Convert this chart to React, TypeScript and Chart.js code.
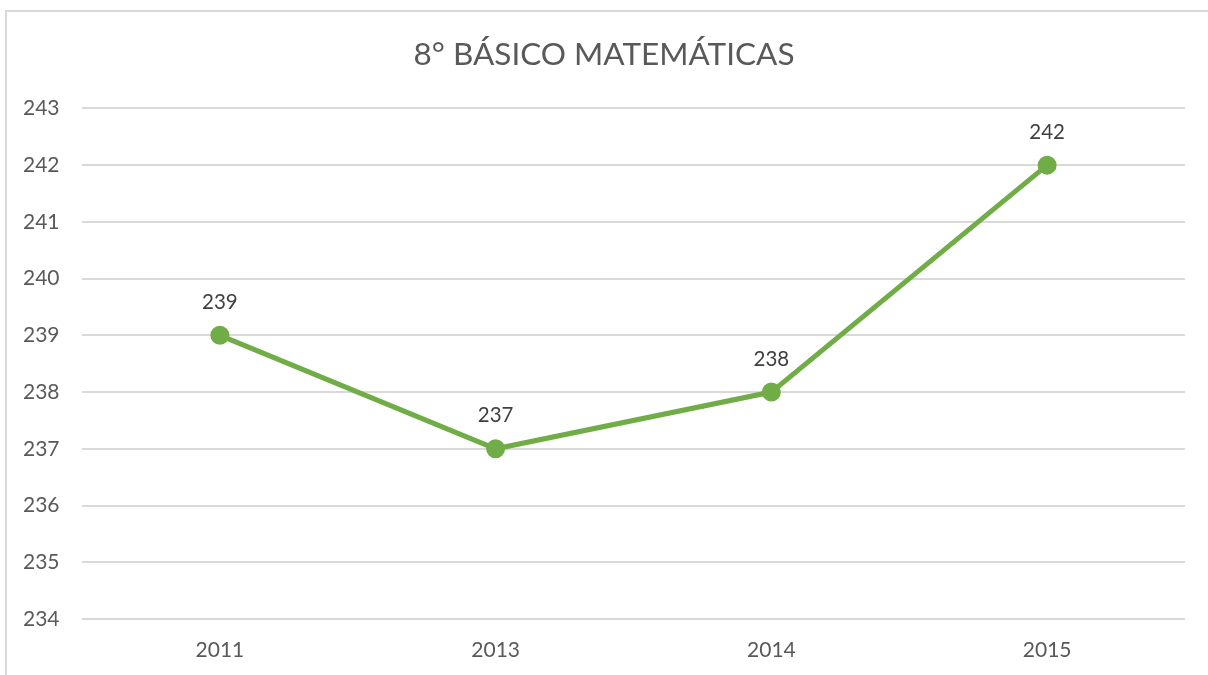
import React, { useEffect, useRef } from "react";
import { Chart, registerables } from "chart.js";

Chart.register(...registerables);

const categories = ["2011", "2013", "2014", "2015"];
const scores = [239, 237, 238, 242];
const yMin = 234;
const yMax = 243;
const titleText = "8° BÁSICO MATEMÁTICAS";

const FONT = "Lato, 'Open Sans', sans-serif";

const dataLabelPlugin = {
  id: "dataLabels",
  afterDatasetsDraw(chart: any) {
    const ctx = chart.ctx;
    const meta = chart.getDatasetMeta(0);
    const ds = chart.data.datasets[0];
    ctx.save();
    ctx.font = `20.5px ${FONT}`;
    ctx.fillStyle = "#404040";
    ctx.textAlign = "center";
    ctx.textBaseline = "middle";
    meta.data.forEach((pt: any, i: number) => {
      ctx.fillText(String(ds.data[i]), pt.x, pt.y - 33);
    });
    ctx.restore();
  },
};

export default function App() {
  const ref = useRef<HTMLCanvasElement | null>(null);

  useEffect(() => {
    document.body.style.margin = "0";
    if (!ref.current) return;
    const chart = new Chart(ref.current, {
      type: "line",
      data: {
        labels: categories,
        datasets: [
          {
            data: scores,
            borderColor: "#70AD47",
            backgroundColor: "#70AD47",
            borderWidth: 5,
            pointRadius: 7,
            pointBackgroundColor: "#70AD47",
            pointBorderColor: "#70AD47",
            tension: 0,
          },
        ],
      },
      options: {
        responsive: false,
        animation: false,
        layout: { padding: { left: 23, right: 23, top: 0, bottom: 0 } },
        plugins: {
          legend: { display: false },
          tooltip: { enabled: false },
          title: {
            display: true,
            text: titleText,
            color: "#595959",
            font: { family: FONT, size: 31.5, weight: "normal" },
            padding: { top: 36, bottom: 34.6 },
          },
        },
        scales: {
          x: {
            offset: true,
            grid: { display: false, drawTicks: false },
            border: { display: false },
            ticks: {
              color: "#595959",
              font: { family: FONT, size: 21 },
              padding: 19,
              maxRotation: 0,
            },
            afterFit(scale: any) {
              scale.height = 56;
            },
          },
          y: {
            min: yMin,
            max: yMax,
            grid: { color: "#d9d9d9", lineWidth: 2, drawTicks: false },
            border: { display: false },
            ticks: {
              stepSize: 1,
              color: "#595959",
              font: { family: FONT, size: 21 },
              crossAlign: "far",
            },
            afterFit(scale: any) {
              scale.width = 59;
            },
          },
        },
      },
      plugins: [dataLabelPlugin],
    });
    return () => chart.destroy();
  }, []);

  return (
    <div style={{ position: "absolute", left: 0, top: 0, width: 1208, height: 675, overflow: "hidden", background: "#fff" }}>
      <div
        style={{
          position: "absolute",
          left: 5,
          top: 10,
          width: 1300,
          height: 800,
          borderTop: "2px solid #d9d9d9",
          borderLeft: "2px solid #d9d9d9",
        }}
      />
      <canvas ref={ref} width={1208} height={675} style={{ position: "absolute", left: 0, top: 0 }} />
    </div>
  );
}
